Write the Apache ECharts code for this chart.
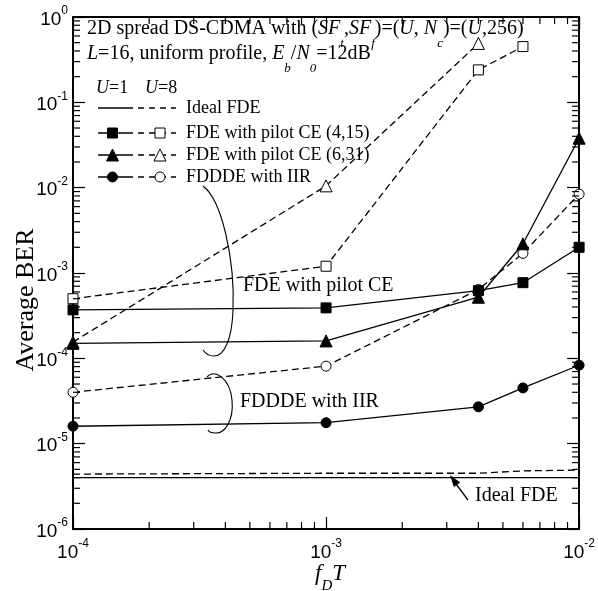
<!DOCTYPE html>
<html><head><meta charset="utf-8">
<script src="https://cdn.jsdelivr.net/npm/echarts@6/dist/echarts.min.js"></script>
<style>html,body{margin:0;padding:0;background:#fff}#c{width:598px;height:591px}</style>
</head><body><div id="c"></div>
<script>
// ---- data ----
const fdT = [1e-4, 1e-3, 4e-3, 6e-3, 1e-2];
const idealU1 = [4.0e-6, 4.0e-6, 4.0e-6, 4.0e-6, 4.0e-6];
const idealU8 = [4.4e-6, 4.5e-6, 4.5e-6, 4.8e-6, 4.9e-6];
const pilot415U1 = [3.7e-4, 3.9e-4, 6.2e-4, 7.7e-4, 2.0e-3];
const pilot415U8 = [5.0e-4, 1.2e-3, 0.24, 0.45];
const pilot631U1 = [1.5e-4, 1.6e-4, 5.2e-4, 2.2e-3, 3.8e-2];
const pilot631U8 = [1.55e-4, 1.05e-2, 0.49];
const fdddeU1 = [1.6e-5, 1.76e-5, 2.7e-5, 4.5e-5, 8.3e-5];
const fdddeU8 = [4.0e-5, 8.1e-5, 6.4e-4, 1.7e-3, 8.4e-3];
const xRange = [1e-4, 1e-2];
const yRange = [1e-6, 1];
const legendLabels = ['Ideal FDE', 'FDE with pilot CE (4,15)', 'FDE with pilot CE (6,31)', 'FDDDE with IIR'];

const SERIF = "'Liberation Serif','Times New Roman',serif";
const SANS = "'Liberation Sans',Arial,sans-serif";

function minors(e0, e1) { const r = []; for (let e = e0; e < e1; e++) for (let k = 2; k <= 9; k++) r.push(+(k * Math.pow(10, e)).toPrecision(3)); return r; }
const xMinor = minors(-4, -2);
const yMinor = minors(-6, 0);

function pts(ys) { return ys.map((y, i) => [fdT[i], y]); }
const solid = { color: '#000', width: 1.3, type: 'solid' };
const dashed = { color: '#000', width: 1.3, type: [7, 4] };
const filled = { color: '#000', borderColor: '#000', borderWidth: 1 };
const open = { color: '#fff', borderColor: '#000', borderWidth: 1 };

function ser(name, ys, sym, size, line, item) {
  return { type: 'line', name, data: pts(ys), symbol: sym, symbolSize: size, showAllSymbol: true,
    lineStyle: line, itemStyle: item, clip: false, animation: false, z: 3 };
}

const labelFmt = v => '{b|10}{s|' + Math.round(Math.log10(v)) + '}';
const labelRich = {
  b: { fontFamily: SANS, fontSize: 19, color: '#000', lineHeight: 24, verticalAlign: 'bottom' },
  s: { fontFamily: SANS, fontSize: 12, color: '#000', lineHeight: 10, verticalAlign: 'top' }
};

function axis(kind, pos, range, showLabel) {
  const a = { type: 'log', logBase: 10, min: range[0], max: range[1], interval: 1, position: pos,
    axisLine: { show: true, onZero: false, lineStyle: { color: '#000', width: 2 } },
    axisTick: { show: true, inside: true, length: 12, lineStyle: { color: '#000', width: 1.2 } },
    axisLabel: { show: showLabel }, splitLine: { show: false }, minorTick: { show: false } };
  if (showLabel) Object.assign(a.axisLabel, { formatter: labelFmt, rich: labelRich, margin: kind === 'x' ? 9 : 5, showMinLabel: true, showMaxLabel: true, hideOverlap: false });
  return a;
}

// minor ticks drawn through the axes' own scales
const TICK = 7;
function tickSeries(kind) {
  const vals = kind === 'x' ? xMinor : yMinor;
  return {
    type: 'custom', silent: true, clip: false, z: 5, animation: false,
    data: vals.map(v => kind === 'x' ? [v, yRange[0]] : [xRange[0], v]),
    renderItem: (params, api) => {
      const v = api.value(kind === 'x' ? 0 : 1);
      const st = { stroke: '#000', lineWidth: 1.2 };
      if (kind === 'x') {
        const a = api.coord([v, yRange[0]]), b = api.coord([v, yRange[1]]);
        return { type: 'group', children: [
          { type: 'line', shape: { x1: a[0], y1: a[1], x2: a[0], y2: a[1] - TICK }, style: st },
          { type: 'line', shape: { x1: b[0], y1: b[1], x2: b[0], y2: b[1] + TICK }, style: st } ] };
      }
      const a = api.coord([xRange[0], v]), b = api.coord([xRange[1], v]);
      return { type: 'group', children: [
        { type: 'line', shape: { x1: a[0], y1: a[1], x2: a[0] + TICK, y2: a[1] }, style: st },
        { type: 'line', shape: { x1: b[0], y1: b[1], x2: b[0] - TICK, y2: b[1] }, style: st } ] };
    }
  };
}

// ---- graphic decorations ----
const G = [];
const rowY = [108, 133, 155, 177];
const syms = [null, 'rect', 'triangle', 'circle'];
function marker(sym, cx, cy, fill) {
  const st = { fill, stroke: '#000', lineWidth: 1 };
  if (sym === 'rect') return { type: 'rect', shape: { x: cx - 5, y: cy - 5, width: 10, height: 10 }, style: st, z: 10 };
  if (sym === 'triangle') return { type: 'polygon', shape: { points: [[cx, cy - 6], [cx + 6, cy + 6], [cx - 6, cy + 6]] }, style: st, z: 10 };
  return { type: 'circle', shape: { cx, cy, r: 5 }, style: st, z: 10 };
}
rowY.forEach((y, i) => {
  G.push({ type: 'line', shape: { x1: 98, y1: y, x2: 133, y2: y }, style: { stroke: '#000', lineWidth: 1.3 }, z: 9 });
  G.push({ type: 'line', shape: { x1: 138, y1: y, x2: 176, y2: y }, style: { stroke: '#000', lineWidth: 1.3, lineDash: [6, 5] }, z: 9 });
  if (syms[i]) { G.push(marker(syms[i], 112.5, y, '#000')); G.push(marker(syms[i], 160, y, '#fff')); }
  G.push({ type: 'text', x: 186, y: y, style: { text: legendLabels[i], font: '18px ' + SERIF, fill: '#000', verticalAlign: 'middle' }, z: 10 });
});
const uRich = {
  n: { fontFamily: SERIF, fontSize: 18, color: '#000' },
  i: { fontFamily: SERIF, fontSize: 18, fontStyle: 'italic', color: '#000' }
};
G.push({ type: 'text', x: 96, y: 88, style: { text: '{i|U}{n|=1}', rich: uRich, verticalAlign: 'middle' }, z: 10 });
G.push({ type: 'text', x: 145, y: 88, style: { text: '{i|U}{n|=8}', rich: uRich, verticalAlign: 'middle' }, z: 10 });

const tRich = {
  n: { fontFamily: SERIF, fontSize: 20, color: '#000', lineHeight: 24, verticalAlign: 'top' },
  i: { fontFamily: SERIF, fontSize: 20, fontStyle: 'italic', color: '#000', lineHeight: 24, verticalAlign: 'top' },
  s: { fontFamily: SERIF, fontSize: 13, fontStyle: 'italic', color: '#000', lineHeight: 49, verticalAlign: 'middle' }
};
G.push({ type: 'text', x: 87, y: 19, style: { text: '{n|2D spread DS-CDMA with (}{i|SF}{s|t}{n|,}{i|SF}{s|f}{n|)=(}{i|U}{n|, }{i|N}{s|c}{n|)=(}{i|U}{n|,256)}', rich: tRich, verticalAlign: 'top' }, z: 10 });
G.push({ type: 'text', x: 87, y: 44, style: { text: '{i|L}{n|=16, uniform profile, }{i|E}{s|b}{n|/}{i|N}{s|0}{n|=12dB}', rich: tRich, verticalAlign: 'top' }, z: 10 });

// brackets
const bz = (x1, y1, c1x, c1y, c2x, c2y, x2, y2) => ({ type: 'bezierCurve', shape: { x1, y1, cpx1: c1x, cpy1: c1y, cpx2: c2x, cpy2: c2y, x2, y2 }, style: { stroke: '#000', lineWidth: 1.1, fill: null }, z: 8 });
G.push(bz(203, 186, 222, 200, 235, 260, 233, 310));
G.push(bz(233, 310, 232, 340, 224, 356, 214, 356));
G.push(bz(214, 356, 209, 356, 205, 353, 203, 350));
G.push(bz(207, 377, 214, 368, 230, 378, 232, 400));
G.push(bz(232, 400, 234, 420, 225, 434, 215, 433));
G.push(bz(215, 433, 211, 433, 209, 432, 208, 430));
G.push({ type: 'text', x: 243, y: 286, style: { text: 'FDE with pilot CE', font: '20px ' + SERIF, fill: '#000', verticalAlign: 'middle' }, z: 10 });
G.push({ type: 'text', x: 240, y: 402, style: { text: 'FDDDE with IIR', font: '20px ' + SERIF, fill: '#000', verticalAlign: 'middle' }, z: 10 });

// arrow to ideal FDE
G.push({ type: 'line', shape: { x1: 468, y1: 500, x2: 456, y2: 484 }, style: { stroke: '#000', lineWidth: 1.3 }, z: 10 });
G.push({ type: 'polygon', shape: { points: [[450, 475], [460.2, 482.4], [453.8, 487.1]] }, style: { fill: '#000' }, z: 10 });
G.push({ type: 'text', x: 475, y: 496, style: { text: 'Ideal FDE', font: '20px ' + SERIF, fill: '#000', verticalAlign: 'middle' }, z: 10 });

// axis names
G.push({ type: 'text', x: 26, y: 300, rotation: Math.PI / 2, style: { text: 'Average BER', font: '26px ' + SERIF, fill: '#000', align: 'center', verticalAlign: 'middle' }, z: 10 });
const nRich = {
  i: { fontFamily: SERIF, fontSize: 23, fontStyle: 'italic', color: '#000', lineHeight: 26, verticalAlign: 'top' },
  s: { fontFamily: SERIF, fontSize: 15, fontStyle: 'italic', color: '#000', lineHeight: 48, verticalAlign: 'middle' }
};
G.push({ type: 'text', x: 330, y: 562, style: { text: '{i|f}{s|D}{i|T}', rich: nRich, align: 'center', verticalAlign: 'top' }, z: 10 });

const chart = echarts.init(document.getElementById('c'), null, { renderer: 'canvas' });
chart.setOption({
  backgroundColor: '#fff',
  animation: false,
  grid: { left: 73, right: 15, top: 17, bottom: 62, containLabel: false },
  xAxis: [axis('x', 'bottom', xRange, true), axis('x', 'top', xRange, false)],
  yAxis: [axis('y', 'left', yRange, true), axis('y', 'right', yRange, false)],
  series: [
    ser('Ideal FDE U=1', idealU1, 'none', 0, solid, filled),
    ser('Ideal FDE U=8', idealU8, 'none', 0, dashed, open),
    ser('Pilot (4,15) U=8', pilot415U8, 'rect', 10, dashed, open),
    ser('Pilot (6,31) U=8', pilot631U8, 'triangle', 12, dashed, open),
    ser('FDDDE U=8', fdddeU8, 'circle', 10, dashed, open),
    ser('Pilot (4,15) U=1', pilot415U1, 'rect', 10, solid, filled),
    ser('Pilot (6,31) U=1', pilot631U1, 'triangle', 12, solid, filled),
    ser('FDDDE U=1', fdddeU1, 'circle', 10, solid, filled),
    tickSeries('x'),
    tickSeries('y')
  ],
  graphic: { elements: G }
});
</script>
</body></html>
